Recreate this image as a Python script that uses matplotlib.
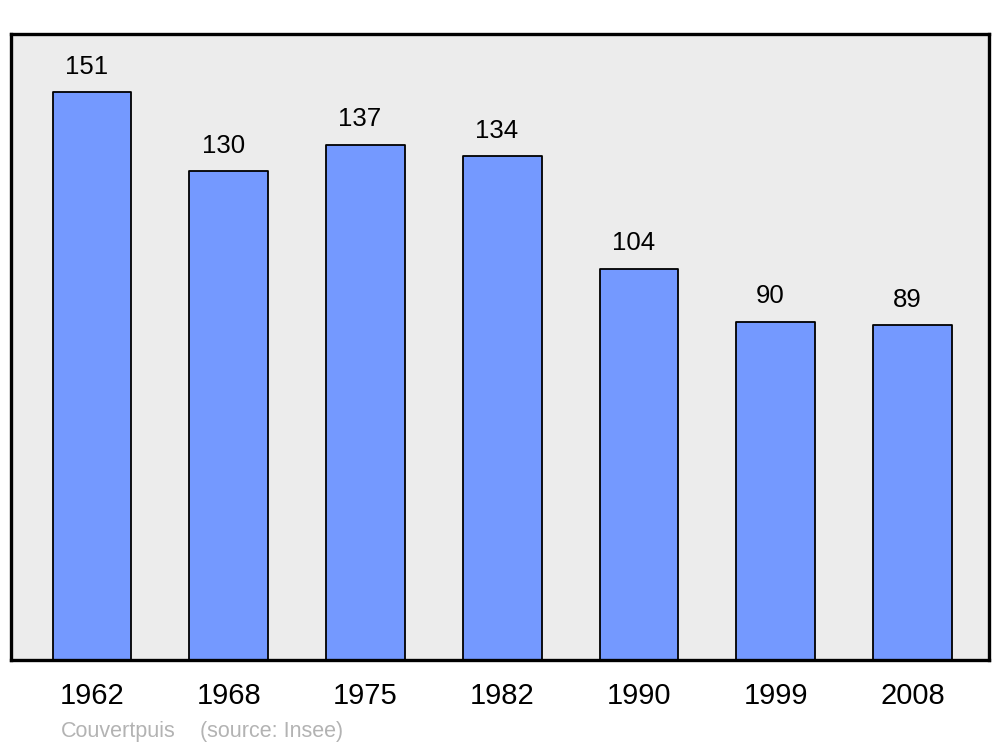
import matplotlib.pyplot as plt

plt.rcParams['font.family'] = ['Liberation Sans', 'DejaVu Sans']

years = ['1962', '1968', '1975', '1982', '1990', '1999', '2008']
population = [151, 130, 137, 134, 104, 90, 89]

fig = plt.figure(figsize=(10, 7.47), dpi=100)
ax = fig.add_axes([0.011, 1 - 660 / 747, 0.978, 626 / 747])
ax.set_facecolor('#ececec')

x = range(len(years))
bars = ax.bar(x, population, width=0.575, color='#7499ff', edgecolor='black',
              linewidth=1.3, zorder=2)
for b in bars:
    b.set_joinstyle('round')

for i, v in enumerate(population):
    ax.text(i - 0.04, v + 3.6, str(v), ha='center', va='bottom', fontsize=18.5)

ax.set_xlim(-0.592, 6.56)
ax.set_ylim(0, 166.5)
ax.set_xticks(list(x))
ax.set_xticklabels(years, fontsize=21)
ax.tick_params(axis='x', length=0, pad=16)
ax.set_yticks([])
for s in ax.spines.values():
    s.set_linewidth(2.4)
    s.set_joinstyle('round')

fig.text(0.061, 1 - 731 / 747, 'Couvertpuis', color='#b3b3b3', fontsize=15.5, va='center')
fig.text(0.2, 1 - 731 / 747, '(source: Insee)', color='#b3b3b3', fontsize=15.5, va='center')

fig.savefig('out.png', dpi=100, facecolor='white')
